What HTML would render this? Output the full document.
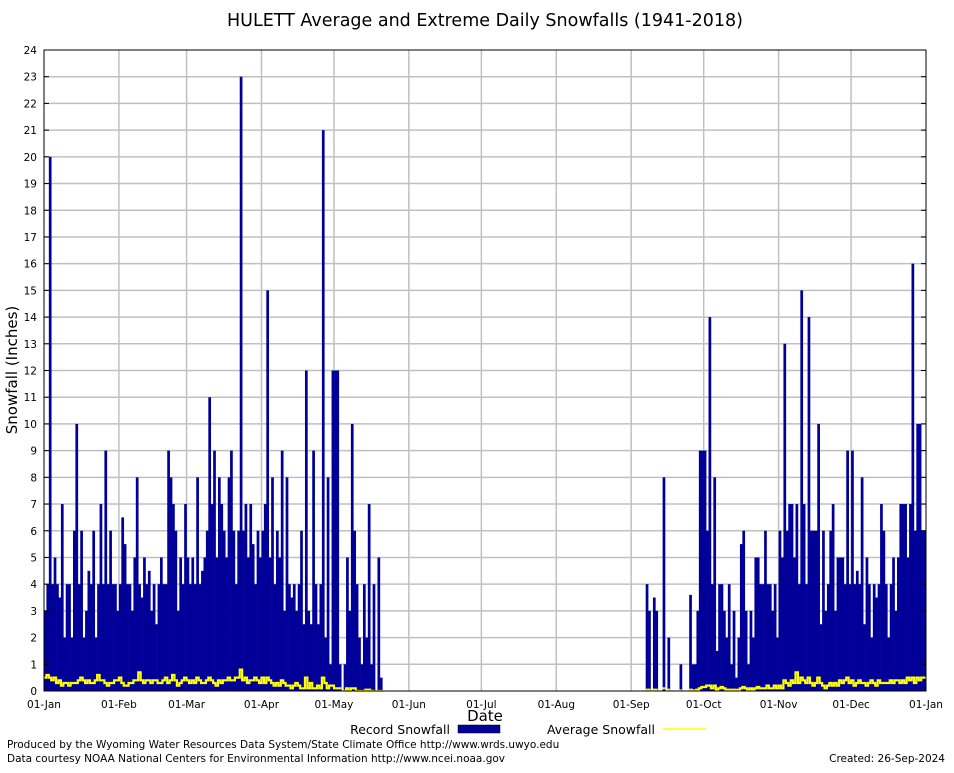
<!DOCTYPE html>
<html><head><meta charset="utf-8"><style>
body{margin:0;background:#fff;font-family:"Liberation Sans","DejaVu Sans",sans-serif}
svg text{font-family:"DejaVu Sans","Liberation Sans",sans-serif}
</style></head><body>
<svg id="c" width="954" height="768" xmlns="http://www.w3.org/2000/svg">
<rect width="954" height="768" fill="#fff"/>
<text x="485" y="26" font-size="17.5" text-anchor="middle">HULETT Average and Extreme Daily Snowfalls (1941-2018)</text>
<g id="grid"></g><g id="bars"></g><g id="avg"></g><g id="axes"></g>
<text transform="translate(17,370) rotate(-90)" font-size="15" text-anchor="middle">Snowfall (Inches)</text>
<text x="485" y="721" font-size="15" text-anchor="middle">Date</text>
<g>
<text x="450" y="734" font-size="12.5" text-anchor="end">Record Snowfall</text>
<rect x="458" y="725" width="42" height="8" fill="#000099" stroke="#000" stroke-width="0.5"/>
<text x="655" y="734" font-size="12.5" text-anchor="end">Average Snowfall</text>
<line x1="663" y1="729" x2="706" y2="729" stroke="#ffff00" stroke-width="1.5"/>
</g>
<text x="7" y="748" font-size="10.5">Produced by the Wyoming Water Resources Data System/State Climate Office http://www.wrds.uwyo.edu</text>
<text x="7" y="762" font-size="10.5">Data courtesy NOAA National Centers for Environmental Information http://www.ncei.noaa.gov</text>
<text x="945" y="762" font-size="10.5" text-anchor="end">Created:  26-Sep-2024</text>
</svg>
<script>
const monthLabels=["01-Jan","01-Feb","01-Mar","01-Apr","01-May","01-Jun","01-Jul","01-Aug","01-Sep","01-Oct","01-Nov","01-Dec","01-Jan"];
const monthDays=[31,28,31,30,31,30,31,31,30,31,30,31];
const yTicks=[0,1,2,3,4,5,6,7,8,9,10,11,12,13,14,15,16,17,18,19,20,21,22,23,24];
const recJan=[3,4,20,4,5,4,3.5,7,2,4,4,2,6,10,4,6,2,3,4.5,4,6,2,4,7,4,9,4,6,4,4,3];
const recFeb=[4,6.5,5.5,4,4,3,5,8,4,3.5,5,4,4.5,3,4,2.5,4,5,4,4,9,8,7,6,3,5,4,7];
const recMar=[5,4,5,4,8,4,4.5,5,6,11,7,9,5,8,7,6,5,8,9,6,4,6,23,6,7,5,7,5.5,4,6,5];
const recApr=[6,7,15,5,8,4,6,5,9,3,8,4,3.5,4,3,4,6,2.5,12,3,2.5,9,4,2.5,4,21,2,8,1,12];
const recMay=[12,12,1,0,1,5,3,10,6,4,2,1,4,2,7,1,4,0,5,0.5,0,0,0,0,0,0,0,0,0,0,0];
const recJun=[0,0,0,0,0,0,0,0,0,0,0,0,0,0,0,0,0,0,0,0,0,0,0,0,0,0,0,0,0,0];
const recJul=[0,0,0,0,0,0,0,0,0,0,0,0,0,0,0,0,0,0,0,0,0,0,0,0,0,0,0,0,0,0,0];
const recAug=[0,0,0,0,0,0,0,0,0,0,0,0,0,0,0,0,0,0,0,0,0,0,0,0,0,0,0,0,0,0,0];
const recSep=[0,0,0,0,0,0,4,3,0,3.5,3,0,0,8,0,2,0,0,0,0,1,0,0,0,3.6,1,1,3,9,9];
const recOct=[9,6,14,4,8,1.5,4,4,3,2,4,1,3,0.5,2,5.5,6,3,1,3,2,5,5,4,4,6,4,4,3,4,2];
const recNov=[6,5,13,6,7,7,5,7,4,15,7,4,14,6,6,6,10,2.5,6,3,4,6,7,3,5,5,5,4,9,4];
const recDec=[9,4,4.5,4,8,2.5,5,4,2,4,3.5,4,7,6,4,2,4,5,3,5,7,7,7,5,7,16,6,10,10,6,6];
const avgJan=[0.5,0.6,0.5,0.4,0.5,0.3,0.4,0.2,0.3,0.3,0.2,0.3,0.3,0.3,0.4,0.5,0.4,0.3,0.4,0.3,0.3,0.4,0.6,0.4,0.4,0.3,0.2,0.3,0.3,0.4,0.4];
const avgFeb=[0.5,0.3,0.2,0.2,0.3,0.3,0.4,0.4,0.7,0.4,0.3,0.4,0.4,0.3,0.4,0.4,0.3,0.3,0.4,0.5,0.3,0.4,0.6,0.4,0.2,0.3,0.4,0.5];
const avgMar=[0.4,0.3,0.4,0.3,0.5,0.4,0.3,0.3,0.4,0.5,0.4,0.3,0.2,0.4,0.3,0.4,0.4,0.5,0.4,0.4,0.5,0.5,0.8,0.4,0.5,0.3,0.4,0.4,0.5,0.4,0.3];
const avgApr=[0.5,0.3,0.5,0.4,0.3,0.2,0.3,0.2,0.4,0.3,0.2,0.2,0.1,0.2,0.3,0.2,0.1,0.1,0.5,0.1,0.3,0.1,0.1,0.2,0.1,0.5,0.3,0.1,0.2,0.2];
const avgMay=[0.1,0.1,0.1,0,0,0.1,0,0.1,0.1,0,0,0,0,0.05,0.05,0,0,0,0,0,0,0,0,0,0,0,0,0,0,0,0];
const avgJun=[0,0,0,0,0,0,0,0,0,0,0,0,0,0,0,0,0,0,0,0,0,0,0,0,0,0,0,0,0,0];
const avgJul=[0,0,0,0,0,0,0,0,0,0,0,0,0,0,0,0,0,0,0,0,0,0,0,0,0,0,0,0,0,0,0];
const avgAug=[0,0,0,0,0,0,0,0,0,0,0,0,0,0,0,0,0,0,0,0,0,0,0,0,0,0,0,0,0,0,0];
const avgSep=[0,0,0,0,0,0,0.05,0.05,0,0.05,0.05,0,0,0.1,0,0.05,0,0,0,0,0.02,0,0,0,0.05,0.02,0.02,0.05,0.1,0.15];
const avgOct=[0.15,0.2,0.2,0.1,0.2,0.05,0.1,0.15,0.1,0.05,0.05,0.05,0.05,0.02,0.05,0.1,0.15,0.1,0.05,0.1,0.05,0.1,0.15,0.1,0.1,0.1,0.2,0.1,0.1,0.2,0.1];
const avgNov=[0.2,0.1,0.4,0.3,0.2,0.4,0.3,0.7,0.3,0.5,0.4,0.3,0.5,0.3,0.2,0.3,0.5,0.3,0.2,0.1,0.2,0.3,0.2,0.3,0.2,0.4,0.3,0.4,0.5,0.3];
const avgDec=[0.4,0.2,0.3,0.4,0.3,0.3,0.2,0.3,0.4,0.3,0.2,0.4,0.3,0.3,0.3,0.3,0.4,0.3,0.4,0.4,0.3,0.4,0.3,0.5,0.4,0.5,0.3,0.5,0.4,0.5,0.5];
const rec=[].concat(recJan,recFeb,recMar,recApr,recMay,recJun,recJul,recAug,recSep,recOct,recNov,recDec);
const avg=[].concat(avgJan,avgFeb,avgMar,avgApr,avgMay,avgJun,avgJul,avgAug,avgSep,avgOct,avgNov,avgDec);
const L=44,R=926,T=50,B=691,NS="http://www.w3.org/2000/svg";
const N=365;
function xs(d){return L+(R-L)*d/N;}
function ys(v){return B-(B-T)*v/24;}
function mk(tag,attrs,parent){const e=document.createElementNS(NS,tag);for(const k in attrs)e.setAttribute(k,attrs[k]);document.getElementById(parent).appendChild(e);return e;}
yTicks.forEach(v=>{
 if(v>0&&v<24){const g=mk('line',{x1:L,x2:R,y1:ys(v),y2:ys(v),stroke:'#c0c0c0','stroke-width':1.5},'grid');
 
 }
 const t=mk('text',{x:L-7,y:ys(v)+4,'font-size':10.5,'text-anchor':'end'},'axes');t.textContent=v;
 
 
 mk('line',{x1:L,x2:L+5,y1:ys(v),y2:ys(v),stroke:'#000'},'axes');
 mk('line',{x1:R,x2:R-5,y1:ys(v),y2:ys(v),stroke:'#000'},'axes');
});
let cum=0;
monthLabels.forEach((lab,i)=>{
 const x=xs(cum);
 if(i>0&&i<12){const g=mk('line',{x1:x,x2:x,y1:T,y2:B,stroke:'#c0c0c0','stroke-width':1.5},'grid');
 
 }
 const t=mk('text',{x:x,y:708,'font-size':10.5,'text-anchor':'middle'},'axes');t.textContent=lab;
 
 
 if(i<12)cum+=monthDays[i];
});
rec.forEach((v,d)=>{
 if(v<=0)return;
 const b=mk('rect',{x:xs(d),y:ys(v),width:xs(d+1)-xs(d)+0.3,height:B-ys(v),fill:'#000099'},'bars');
 
 
});
let p='',on=false;
avg.forEach((v,d)=>{
 if(v<=0&&rec[d]<=0){on=false;return;}
 p+=(on?'L':'M')+xs(d)+','+ys(v)+'L'+xs(d+1)+','+ys(v);on=true;
});
const ln=mk('path',{d:p,fill:'none',stroke:'#ffff00','stroke-width':2.2},'avg');


const fr=mk('rect',{x:L,y:T,width:R-L,height:B-T,fill:'none',stroke:'#000','stroke-width':1},'axes');


</script>
</body></html>
